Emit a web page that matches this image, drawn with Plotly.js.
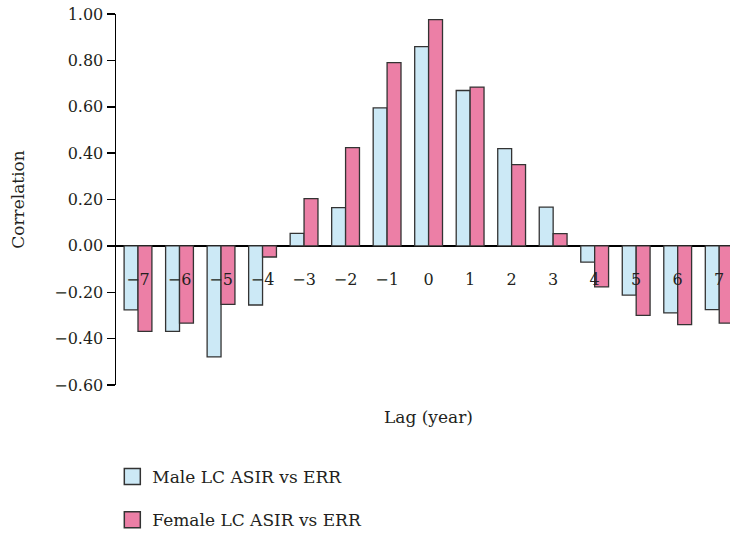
<!DOCTYPE html>
<html>
<head>
<meta charset="utf-8">
<script src="https://cdn.plot.ly/plotly-3.0.1.min.js"></script>
<style>html,body{margin:0;padding:0;overflow:hidden;background:#fff;}</style>
</head>
<body>
<div id="chart" style="width:730px;height:538px;"></div>
<script>
const lags = [-7, -6, -5, -4, -3, -2, -1, 0, 1, 2, 3, 4, 5, 6, 7];
const maleValues = [-0.276, -0.369, -0.479, -0.255, 0.054, 0.165, 0.595, 0.859, 0.670, 0.419, 0.167, -0.070, -0.212, -0.289, -0.275];
const femaleValues = [-0.369, -0.333, -0.252, -0.048, 0.204, 0.424, 0.790, 0.976, 0.685, 0.350, 0.053, -0.177, -0.300, -0.340, -0.333];
const seriesNames = ["Male LC ASIR vs ERR", "Female LC ASIR vs ERR"];
const seriesColors = ['#cce9f6', '#ec7fa6'];
const yTicks = [-0.6, -0.4, -0.2, 0, 0.2, 0.4, 0.6, 0.8, 1.0];

const font = "DejaVu Serif";
const textColor = '#231f20';
const outline = {color: '#333333', width: 1.3};
const traces = [
  {type: 'bar', x: lags, y: maleValues, name: seriesNames[0], showlegend: false,
   marker: {color: seriesColors[0], line: outline}},
  {type: 'bar', x: lags, y: femaleValues, name: seriesNames[1], showlegend: false,
   marker: {color: seriesColors[1], line: outline}},
  // legend entries (larger square swatches, as in the reference)
  {type: 'scatter', mode: 'markers', x: [null], y: [null], name: seriesNames[0], legendgroup: 'm',
   marker: {symbol: 'square', size: 16, color: seriesColors[0], line: {color: '#333333', width: 1.5}}},
  {type: 'scatter', mode: 'markers', x: [null], y: [null], name: seriesNames[1], legendgroup: 'f',
   marker: {symbol: 'square', size: 16, color: seriesColors[1], line: {color: '#333333', width: 1.5}}}
];
const layout = {
  width: 730, height: 538,
  margin: {l: 116, r: 0, t: 14, b: 149},
  paper_bgcolor: '#fff', plot_bgcolor: '#fff',
  font: {family: font, size: 16, color: textColor},
  barmode: 'group', bargap: 0.33, bargroupgap: 0,
  showlegend: true,
  legend: {orientation: 'v', x: -0.006, y: -0.2, xanchor: 'left', yanchor: 'top',
           traceorder: 'grouped', tracegroupgap: 18, font: {family: font, size: 17, color: textColor}},
  xaxis: {range: [-7.53, 7.26], tickvals: lags, showgrid: false, zeroline: false,
          showline: false, ticks: '', anchor: 'free', position: 0.375,
          ticklabelstandoff: 22, tickfont: {family: font, size: 16, color: textColor}},
  yaxis: {range: [-0.6, 1.0], tickvals: yTicks, tickformat: '.2f', showgrid: false,
          zeroline: true, zerolinecolor: '#000', zerolinewidth: 1.5,
          showline: true, linecolor: '#000', linewidth: 1.5,
          ticks: 'outside', ticklen: 8, tickwidth: 1.5, tickcolor: '#000',
          tickfont: {family: font, size: 16, color: textColor},
          title: {text: 'Correlation', standoff: 25, font: {family: font, size: 17, color: textColor}}},
  annotations: [{text: 'Lag (year)', xref: 'x', x: 0, yref: 'paper', y: -0.085,
                 xanchor: 'center', yanchor: 'middle', showarrow: false,
                 font: {family: font, size: 17, color: textColor}}]
};
Plotly.newPlot('chart', traces, layout, {displayModeBar: false, staticPlot: true});
</script>
</body>
</html>
